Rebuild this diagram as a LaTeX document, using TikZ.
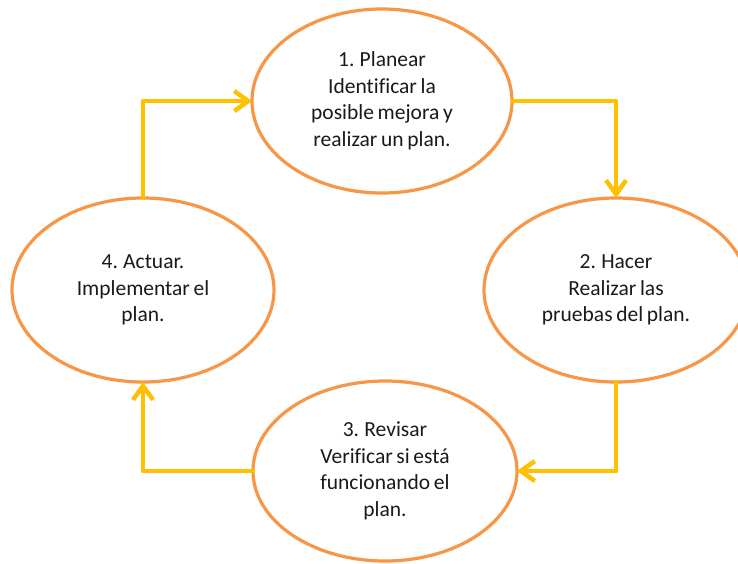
\documentclass[tikz,border=0pt]{standalone}
\usepackage{fontspec}
\setmainfont[Ligatures=NoCommon,WordSpace=0.75]{Carlito}
\usetikzlibrary{shapes.geometric,arrows.meta}
\definecolor{ringorange}{HTML}{F79646}
\definecolor{flowgold}{HTML}{FFC000}
\definecolor{inktext}{HTML}{1A1A1A}
\begin{document}
\begin{tikzpicture}[x=1pt,y=-1pt,
  stage/.style={ellipse, draw=ringorange, line width=3.2pt, fill=white,
    inner sep=0pt, outer sep=0pt, align=center, text=inktext,
    font=\fontsize{21.5}{26.5}\selectfont},
  flow/.style={draw=flowgold, line width=4.4pt, line join=round, line cap=round,
    -{Straight Barb[length=14pt,width=20pt,line width=4.4pt]},
    preaction={draw=black!35, opacity=0.5, transform canvas={shift={(1.3pt,-1.6pt)}}}}
]
\useasboundingbox (0,0) rectangle (738,563);
\fill[white] (0,0) rectangle (738,563);

% the four stages of the cycle
\node[stage, minimum width=260pt, minimum height=184pt] (n1) at (382,101)
  {1. Planear\\Identificar la\\posible mejora y\\realizar un plan.};
\node[stage, minimum width=264pt, minimum height=184pt] (n2) at (616,290)
  {2. Hacer\\Realizar las\\pruebas del plan.};
\node[stage, minimum width=264pt, minimum height=180pt] (n3) at (385,471)
  {3. Revisar\\Verificar si está\\funcionando el\\plan.};
\node[stage, minimum width=262pt, minimum height=184pt] (n4) at (143,290)
  {4. Actuar.\\Implementar el\\plan.};

% elbow connectors running clockwise
\draw[flow] (n4.north) |- (n1.west);
\draw[flow] (n1.east) -| (n2.north);
\draw[flow] (n2.south) |- (n3.east);
\draw[flow] (n3.west) -| (n4.south);
\end{tikzpicture}
\end{document}
